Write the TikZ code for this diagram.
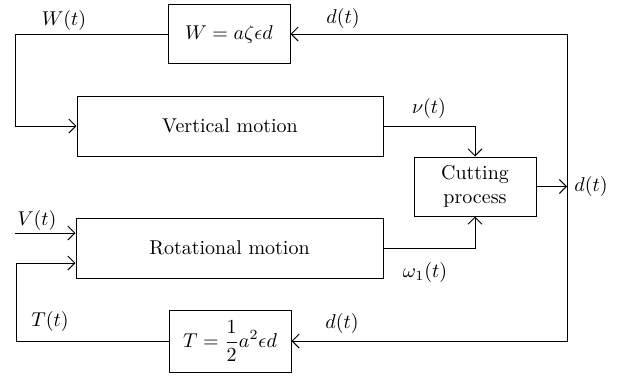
\documentclass[tikz,border=0pt]{standalone}
\usetikzlibrary{arrows.meta}
\begin{document}
\begin{tikzpicture}[x=0.5pt,y=-0.5pt, line width=0.5pt,
  >={Straight Barb[length=3.5pt,width=7pt]},
  blk/.style={draw, rectangle, inner sep=0pt}]
\useasboundingbox (0,0) rectangle (624,377);
\node[blk, minimum width=61pt, minimum height=29.5pt] (w) at (229,34) {$W = a\zeta\epsilon d$};
\node[blk, minimum width=153pt, minimum height=30pt] (vm) at (230,126) {Vertical motion};
\node[blk, minimum width=61pt, minimum height=29.5pt, align=center] (cp) at (475,186.5) {Cutting\\process};
\node[blk, minimum width=153.5pt, minimum height=30pt] (rm) at (229.5,248) {Rotational motion};
\node[blk, minimum width=61pt, minimum height=31pt] (tb) at (230,341) {$\displaystyle T = \frac{1}{2}a^2\epsilon d$};
\coordinate (wl) at (15,34);
\coordinate (vin) at (15,233);
\coordinate (tu) at (16,263);
\coordinate (dout) at (567,186.5);
\draw[->] (w.west) -- (wl) |- (vm.west);
\draw[->] (vm.east) -| (cp.north);
\draw[->] (rm.east) -| (cp.south);
\draw[->] (cp.east) -- (dout);
\draw[->] (dout) |- (w.east);
\draw[->] (dout) |- (tb.east);
\draw[->] (vin) -- (rm.west |- vin);
\draw[->] (tb.west) -| (tu) -- (rm.west |- tu);
\node (lw) at (64,20) {$W(t)$};
\node (ld1) at (343,18) {$d(t)$};
\node (lv) at (429,108) {$\nu(t)$};
\node (ld2) at (591,186) {$d(t)$};
\node (lV) at (37,220) {$V(t)$};
\node (lo) at (425,272) {$\omega_1(t)$};
\node (lT) at (50,321) {$T(t)$};
\node (ld3) at (342,323) {$d(t)$};
\end{tikzpicture}
\end{document}
